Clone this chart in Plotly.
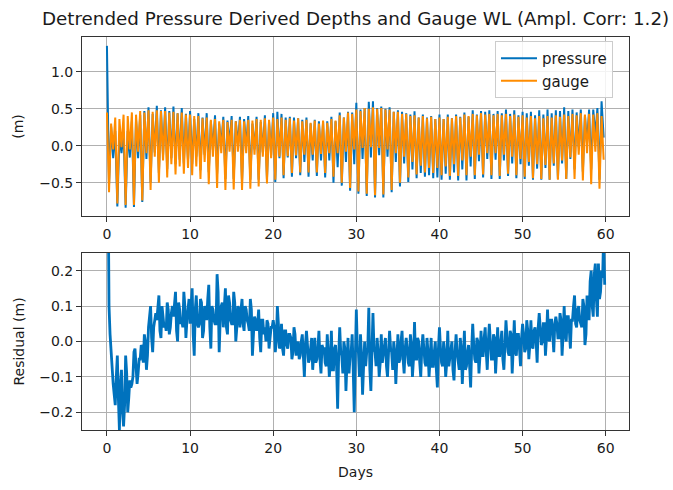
import numpy as np
import plotly.graph_objects as go

# ---- data ----
days = list(range(60))
# gauge water level extremes per day (m): higher high, lower low, lower high, higher low
gauge_hh = [0.45, 0.38, 0.42, 0.45, 0.47, 0.48, 0.48, 0.47, 0.46, 0.45,
            0.42, 0.40, 0.38, 0.36, 0.35, 0.35, 0.35, 0.35, 0.36, 0.37,
            0.38, 0.38, 0.37, 0.37, 0.35, 0.34, 0.34, 0.36, 0.41, 0.45,
            0.49, 0.51, 0.52, 0.51, 0.49, 0.46, 0.43, 0.41, 0.40, 0.39,
            0.38, 0.39, 0.40, 0.42, 0.43, 0.44, 0.43, 0.43, 0.43, 0.42,
            0.41, 0.40, 0.40, 0.40, 0.41, 0.42, 0.43, 0.44, 0.43, 0.44]
gauge_ll = [-0.63, -0.78, -0.80, -0.80, -0.74, -0.60, -0.50, -0.43, -0.39, -0.38,
            -0.40, -0.45, -0.52, -0.57, -0.60, -0.59, -0.60, -0.58, -0.55, -0.51,
            -0.46, -0.40, -0.37, -0.36, -0.36, -0.36, -0.37, -0.42, -0.50, -0.57,
            -0.62, -0.65, -0.67, -0.66, -0.60, -0.50, -0.43, -0.39, -0.36, -0.37,
            -0.40, -0.41, -0.41, -0.40, -0.40, -0.39, -0.40, -0.41, -0.38, -0.40,
            -0.42, -0.44, -0.45, -0.46, -0.46, -0.45, -0.45, -0.47, -0.52, -0.58]
gauge_lh = [0.30, 0.36, 0.40, 0.42, 0.45, 0.46, 0.47, 0.45, 0.44, 0.42,
            0.40, 0.37, 0.35, 0.33, 0.32, 0.33, 0.33, 0.34, 0.35, 0.35,
            0.36, 0.35, 0.34, 0.33, 0.31, 0.30, 0.31, 0.34, 0.38, 0.43,
            0.47, 0.50, 0.50, 0.49, 0.46, 0.43, 0.40, 0.38, 0.37, 0.36,
            0.36, 0.37, 0.38, 0.40, 0.41, 0.42, 0.41, 0.41, 0.40, 0.39,
            0.38, 0.37, 0.37, 0.38, 0.39, 0.40, 0.41, 0.42, 0.42, 0.40]
gauge_hl = [-0.05, -0.02, -0.05, -0.08, -0.10, -0.15, -0.20, -0.25, -0.28, -0.30,
            -0.28, -0.22, -0.15, -0.10, -0.08, -0.08, -0.10, -0.12, -0.15, -0.17,
            -0.15, -0.14, -0.13, -0.12, -0.12, -0.11, -0.10, -0.10, -0.08, -0.05,
            -0.03, -0.02, -0.03, -0.05, -0.10, -0.15, -0.22, -0.27, -0.30, -0.30,
            -0.28, -0.25, -0.20, -0.15, -0.12, -0.10, -0.10, -0.12, -0.15, -0.18,
            -0.22, -0.25, -0.26, -0.24, -0.20, -0.16, -0.12, -0.10, -0.08, -0.19]

# residual (pressure - gauge, m) at the four tide extremes of each day
res_hh = [0.90, -0.18, -0.24, -0.12, -0.05, 0.04, 0.06, 0.05, 0.07, 0.06,
          0.05, 0.04, 0.06, 0.05, 0.04, 0.05, 0.04, 0.05, 0.03, 0.04,
          0.06, 0.05, 0.02, 0.00, 0.03, 0.01, -0.02, 0.03, 0.04, 0.01,
          0.09, 0.00, 0.08, 0.02, 0.03, 0.02, 0.01, 0.055, 0.02, 0.01,
          0.04, 0.03, 0.02, 0.03, 0.05, 0.03, 0.05, 0.04, 0.06, 0.06,
          0.05, 0.06, 0.08, 0.09, 0.07, 0.10, 0.06, 0.05, 0.06, 0.07]
res_ll = [0.10, -0.04, -0.04, -0.03, -0.02, 0.10, 0.13, 0.11, 0.14, 0.14,
          0.15, 0.12, 0.16, 0.19, 0.15, 0.14, 0.12, 0.12, 0.09, 0.06,
          -0.03, -0.04, -0.05, -0.04, -0.06, -0.05, -0.06, -0.08, -0.04, -0.04,
          -0.03, -0.03, -0.03, -0.04, -0.03, -0.05, -0.06, -0.05, -0.06, -0.07,
          -0.06, -0.05, -0.06, -0.07, -0.05, -0.04, -0.05, -0.04, -0.03, -0.04,
          -0.03, -0.02, -0.01, 0.00, 0.01, 0.00, 0.13, 0.12, 0.20, 0.12]
res_lh = [-0.04, -0.25, -0.20, -0.07, 0.02, -0.03, 0.01, 0.02, 0.00, 0.01,
          -0.04, 0.01, -0.02, -0.03, 0.02, 0.00, 0.03, -0.04, -0.03, -0.02,
          0.10, 0.03, 0.04, 0.02, -0.01, 0.03, 0.02, -0.01, 0.00, 0.02,
          0.02, 0.095, 0.01, 0.01, 0.00, 0.03, 0.02, 0.00, 0.01, 0.00,
          0.00, 0.00, 0.01, -0.01, 0.01, 0.04, 0.02, 0.03, 0.03, 0.02,
          0.06, 0.04, 0.05, 0.06, 0.08, 0.07, 0.04, -0.01, 0.07, 0.20]
res_hl = [-0.12, -0.08, -0.11, -0.09, -0.08, 0.06, 0.07, 0.08, 0.09, 0.10,
          0.13, 0.10, 0.09, 0.10, 0.11, 0.10, 0.09, 0.07, 0.06, 0.04,
          -0.02, -0.02, -0.04, -0.10, -0.08, -0.09, -0.10, -0.19, -0.14, -0.20,
          -0.15, -0.14, -0.10, -0.10, -0.12, -0.09, -0.10, -0.10, -0.10, -0.13,
          -0.10, -0.11, -0.12, -0.13, -0.09, -0.08, -0.09, -0.08, -0.09, -0.07,
          -0.05, -0.06, -0.04, -0.03, -0.04, -0.02, 0.10, 0.13, 0.22, 0.30]
# residual (m) midway between the extremes (day + 0.125, 0.375, 0.625, 0.875)
res_m1 = [0.30, -0.10, -0.18, -0.10, -0.01, 0.07, 0.09, 0.03, 0.10, 0.04,
          0.10, 0.05, 0.12, 0.05, 0.10, 0.05, 0.09, 0.03, 0.05, 0.00,
          0.04, -0.02, 0.01, -0.05, -0.01, -0.06, -0.02, -0.08, -0.03, -0.09,
          -0.02, -0.07, -0.02, -0.06, -0.02, -0.06, -0.02, -0.05, -0.02, -0.07,
          -0.02, -0.07, -0.03, -0.08, -0.01, -0.04, 0.00, -0.04, 0.01, -0.03,
          0.02, -0.01, 0.04, 0.01, 0.05, 0.02, 0.10, 0.04, 0.17, 0.22]
res_m2 = [0.02, -0.16, -0.09, -0.02, -0.06, 0.01, 0.03, 0.09, 0.03, 0.10,
          0.02, 0.11, 0.04, 0.14, 0.04, 0.11, 0.05, 0.09, 0.01, 0.05,
          0.00, 0.03, -0.03, 0.00, -0.05, -0.02, -0.07, -0.02, -0.09, -0.03,
          -0.10, -0.02, -0.07, -0.01, -0.08, 0.00, -0.07, 0.01, -0.07, -0.03,
          -0.07, -0.02, -0.08, -0.03, -0.06, 0.01, -0.05, 0.00, -0.04, 0.02,
          -0.02, 0.03, 0.00, 0.06, 0.01, 0.07, 0.05, 0.10, 0.10, 0.14]
res_m3 = [-0.08, -0.12, -0.16, -0.12, 0.00, 0.04, 0.10, 0.04, 0.11, 0.06,
          0.09, 0.03, 0.10, 0.06, 0.13, 0.04, 0.10, 0.02, 0.06, 0.01,
          0.05, -0.01, 0.02, -0.04, 0.01, -0.05, -0.03, -0.07, -0.02, -0.08,
          -0.04, -0.08, -0.03, -0.07, -0.03, -0.05, -0.01, -0.06, -0.03, -0.08,
          -0.03, -0.08, -0.02, -0.07, 0.00, -0.03, 0.01, -0.05, 0.02, -0.02,
          0.03, 0.00, 0.05, 0.02, 0.06, 0.03, 0.09, 0.02, 0.19, 0.18]
res_m4 = [-0.15, -0.20, -0.13, -0.05, -0.04, 0.08, 0.04, 0.10, 0.05, 0.12,
          0.05, 0.09, 0.06, 0.11, 0.06, 0.09, 0.06, 0.06, 0.02, 0.04,
          -0.01, 0.02, -0.02, -0.01, -0.04, -0.01, -0.06, -0.04, -0.06, -0.05,
          -0.07, -0.03, -0.06, -0.03, -0.05, -0.02, -0.05, -0.02, -0.05, -0.02,
          -0.06, -0.03, -0.06, -0.02, -0.04, 0.00, -0.03, -0.01, -0.02, 0.01,
          -0.01, 0.04, 0.01, 0.05, 0.02, 0.06, 0.06, 0.09, 0.12, 0.16]
extreme_offsets = [0.0, 0.25, 0.5, 0.75]          # day fraction of the listed extremes
residual_offsets = [0.0, 0.125, 0.25, 0.375, 0.5, 0.625, 0.75, 0.875]

# ---- assemble series ----
d = np.array(days)[:, None]
t_ext = (d + np.array(extreme_offsets)[None, :]).ravel()
t_res = (d + np.array(residual_offsets)[None, :]).ravel()
gauge = np.column_stack([gauge_hh, gauge_ll, gauge_lh, gauge_hl]).ravel()
res_at_ext = np.column_stack([res_hh, res_ll, res_lh, res_hl]).ravel()
pressure = gauge + res_at_ext
residual = np.column_stack([res_hh, res_m1, res_ll, res_m2,
                            res_lh, res_m3, res_hl, res_m4]).ravel()

BLUE = '#0072bd'
ORANGE = '#ff8c00'
FONT = 'DejaVu Sans'
TXT = '#1a1a1a'
TITLE = 'Detrended Pressure Derived Depths and Gauge WL (Ampl. Corr: 1.2)'

fig = go.Figure()
fig.add_trace(go.Scatter(x=t_ext, y=pressure, mode='lines', name='pressure',
                         line=dict(color=BLUE, width=2), xaxis='x', yaxis='y'))
fig.add_trace(go.Scatter(x=t_ext, y=gauge, mode='lines', name='gauge',
                         line=dict(color=ORANGE, width=2), xaxis='x', yaxis='y'))
fig.add_trace(go.Scatter(x=t_res, y=residual, mode='lines', name='residual',
                         line=dict(color=BLUE, width=2.8), xaxis='x2', yaxis='y2',
                         showlegend=False))

axis_common = dict(showgrid=True, gridcolor='#b0b0b0', gridwidth=1,
                   ticks='outside', ticklen=5, tickwidth=1, tickcolor='#333333',
                   showline=True, mirror=True, linecolor='#333333', linewidth=1,
                   zeroline=False, tickfont=dict(family=FONT, size=14, color=TXT))
xticks = [0, 10, 20, 30, 40, 50, 60]

fig.update_layout(
    width=673, height=490,
    margin=dict(l=82, r=44, t=37, b=49),
    paper_bgcolor='white', plot_bgcolor='white',
    font=dict(family=FONT, size=14, color=TXT),
    xaxis=dict(domain=[0, 1], range=[-3.0, 62.8], tickvals=xticks, anchor='y', **axis_common),
    yaxis=dict(domain=[0.5446, 1], range=[-0.95, 1.47],
               tickvals=[-0.5, 0.0, 0.5, 1.0], ticktext=['\u22120.5', '0.0', '0.5', '1.0'],
               title=dict(text='(m)', font=dict(family=FONT, size=14, color=TXT), standoff=12),
               anchor='x', **axis_common),
    xaxis2=dict(domain=[0, 1], range=[-3.0, 62.8], tickvals=xticks, anchor='y2',
                title=dict(text='Days', font=dict(family=FONT, size=14, color=TXT), standoff=12),
                **axis_common),
    yaxis2=dict(domain=[0, 0.4505], range=[-0.25, 0.25],
                tickvals=[-0.2, -0.1, 0.0, 0.1, 0.2],
                ticktext=['\u22120.2', '\u22120.1', '0.0', '0.1', '0.2'],
                title=dict(text='Residual (m)', font=dict(family=FONT, size=14, color=TXT), standoff=11),
                anchor='x2', **axis_common),
    legend=dict(x=0.755, y=0.99, xanchor='left', yanchor='top', itemwidth=36,
                bgcolor='rgba(255,255,255,0.85)', bordercolor='#cccccc', borderwidth=1,
                font=dict(family=FONT, size=15, color=TXT)),
    showlegend=True,
    annotations=[dict(text=TITLE, xref='paper', yref='paper', x=0.4991, y=1.046,
                      xanchor='center', yanchor='middle', showarrow=False,
                      font=dict(family=FONT, size=18.3, color=TXT))],
)

# remove the default page margin so the 673x490 figure fills the window exactly
page_css = ("var h=document.documentElement,b=document.body;"
            "h.style.margin='0';h.style.padding='0';h.style.overflow='hidden';"
            "b.style.margin='0';b.style.padding='0';b.style.overflow='hidden';"
            "h.style.height='490px';b.style.height='490px';")
fig.write_html('out.html', config={'displayModeBar': False}, post_script=page_css)
